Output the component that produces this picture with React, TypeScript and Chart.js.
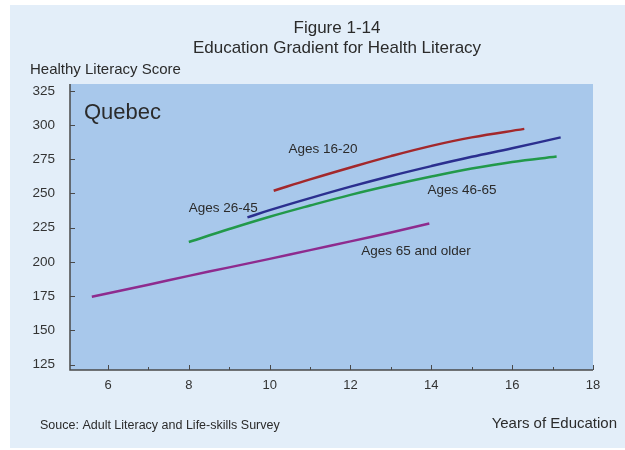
import React, { useEffect, useRef } from "react";
import Chart from "chart.js/auto";

// Health literacy score by years of education, Quebec, by age group
const years16to20 = [10.1, 11, 12, 13, 14, 15, 16.3];
const scores16to20 = [252, 260.3, 269, 277.3, 284.8, 291, 297.2];

const years26to45 = [9.45, 10, 11, 12, 13, 14, 15, 16, 17.2];
const scores26to45 = [232.5, 237.8, 246.6, 255, 262.8, 270, 276.8, 283, 291];

const years46to65 = [8, 9, 10, 11, 12, 13, 14, 15, 16, 17.1];
const scores46to65 = [214.5, 224, 233, 241.2, 249, 256, 262.4, 268.2, 273, 277];

const years65plus = [5.6, 7, 8, 9, 10, 11, 12, 13, 13.95];
const scores65plus = [174.5, 183.3, 189.8, 196, 202.2, 208.6, 215, 221.5, 228];

const xTickValues = [6, 8, 10, 12, 14, 16, 18];
const xMinorTickValues = [7, 9, 11, 13, 15, 17];
const yTickValues = [125, 150, 175, 200, 225, 250, 275, 300, 325];

const seriesNames = ["Ages 16-20", "Ages 26-45", "Ages 46-65", "Ages 65 and older"];

const FONT = "'Liberation Sans', Arial, sans-serif";
const TEXT = "#2b2b2b";
const PANEL = "#e3eef9";
const PLOT = "#a8c8eb";
const AXIS = "#4a4a4a";

// in-plot series labels, anchored in data coordinates (centre of text)
const seriesLabelAnchors = [
  { x: 11.32, y: 282.5 },
  { x: 8.85, y: 239.4 },
  { x: 14.76, y: 252.6 },
  { x: 13.62, y: 208 },
];

const toPoints = (xs: number[], ys: number[]) => xs.map((x, i) => ({ x, y: ys[i] }));

const framePlugin = {
  id: "frame",
  beforeDraw(chart: any) {
    const { ctx, chartArea: a } = chart;
    ctx.save();
    ctx.fillStyle = "#ffffff";
    ctx.fillRect(0, 0, chart.width, chart.height);
    ctx.fillStyle = PANEL;
    ctx.fillRect(10, 5, chart.width - 10, 443);
    ctx.fillStyle = PLOT;
    ctx.fillRect(a.left, a.top, a.right - a.left, a.bottom - a.top);
    ctx.restore();
  },
  afterDraw(chart: any) {
    const { ctx, chartArea: a } = chart;
    const xs = chart.scales.x;
    const ys = chart.scales.y;
    ctx.save();

    // axis lines
    ctx.strokeStyle = AXIS;
    ctx.lineWidth = 1.5;
    ctx.beginPath();
    ctx.moveTo(a.left, a.top);
    ctx.lineTo(a.left, a.bottom);
    ctx.lineTo(a.right, a.bottom);
    ctx.stroke();

    // inward tick marks
    ctx.lineWidth = 1;
    ctx.beginPath();
    for (const v of yTickValues) {
      const py = Math.round(ys.getPixelForValue(v)) + 0.5;
      ctx.moveTo(a.left, py);
      ctx.lineTo(a.left + 5, py);
    }
    for (const v of xTickValues) {
      const px = Math.round(xs.getPixelForValue(v)) + 0.5;
      ctx.moveTo(px, a.bottom);
      ctx.lineTo(px, a.bottom - 5);
    }
    for (const v of xMinorTickValues) {
      const px = Math.round(xs.getPixelForValue(v)) + 0.5;
      ctx.moveTo(px, a.bottom);
      ctx.lineTo(px, a.bottom - 3);
    }
    ctx.stroke();

    ctx.fillStyle = TEXT;
    ctx.textBaseline = "middle";

    // titles
    ctx.textAlign = "center";
    ctx.font = `17px ${FONT}`;
    ctx.fillText("Figure 1-14", 337, 28);
    ctx.fillText("Education Gradient for Health Literacy", 337, 48);

    ctx.textAlign = "left";
    ctx.font = `15px ${FONT}`;
    ctx.fillText("Healthy Literacy Score", 30, 70);

    // region name
    ctx.font = `22px ${FONT}`;
    ctx.fillText("Quebec", 84, 113);

    // series labels
    ctx.textAlign = "center";
    ctx.font = `13.5px ${FONT}`;
    seriesNames.forEach((name, i) => {
      const p = seriesLabelAnchors[i];
      ctx.fillText(name, xs.getPixelForValue(p.x), ys.getPixelForValue(p.y));
    });

    // axis title and source
    ctx.textAlign = "right";
    ctx.font = `15px ${FONT}`;
    ctx.fillText("Years of Education", 617, 424);
    ctx.textAlign = "left";
    ctx.font = `12.5px ${FONT}`;
    ctx.fillText("Souce: Adult Literacy and Life-skills Survey", 40, 426);

    ctx.restore();
  },
};

export default function App() {
  const canvasRef = useRef<HTMLCanvasElement | null>(null);

  useEffect(() => {
    const canvas = canvasRef.current;
    if (!canvas) return;
    const line = (label: string, xs: number[], ys: number[], color: string) => ({
      label,
      data: toPoints(xs, ys),
      borderColor: color,
      backgroundColor: color,
      borderWidth: 2.5,
      pointRadius: 0,
      tension: 0.4,
      fill: false,
    });

    const chart = new Chart(canvas, {
      type: "line",
      data: {
        datasets: [
          line(seriesNames[0], years16to20, scores16to20, "#a3282b"),
          line(seriesNames[1], years26to45, scores26to45, "#2b2f8f"),
          line(seriesNames[2], years46to65, scores46to65, "#22994a"),
          line(seriesNames[3], years65plus, scores65plus, "#8e2b8e"),
        ],
      },
      options: {
        animation: false,
        responsive: false,
        devicePixelRatio: 1,
        layout: { padding: { top: 84, right: 32, left: 0, bottom: 0 } },
        plugins: { legend: { display: false }, tooltip: { enabled: false } },
        scales: {
          x: {
            type: "linear",
            min: 5.06,
            max: 18,
            grid: { display: false, drawTicks: false },
            border: { display: false },
            afterBuildTicks: (s: any) => {
              s.ticks = xTickValues.map((value) => ({ value }));
            },
            afterFit: (s: any) => {
              s.height = 80;
            },
            ticks: {
              padding: 8,
              color: "#333333",
              font: { family: FONT, size: 13 },
              maxRotation: 0,
              callback: (v: any) => String(v),
            },
          },
          y: {
            type: "linear",
            min: 121,
            max: 330,
            grid: { display: false, drawTicks: false },
            border: { display: false },
            afterBuildTicks: (s: any) => {
              s.ticks = yTickValues.map((value) => ({ value }));
            },
            afterFit: (s: any) => {
              s.width = 70;
            },
            ticks: {
              padding: 15,
              color: "#333333",
              font: { family: FONT, size: 13.5 },
              callback: (v: any) => String(v),
            },
          },
        },
      },
      plugins: [framePlugin],
    });
    return () => chart.destroy();
  }, []);

  return (
    <div style={{ position: "absolute", left: 0, top: 0, width: 625, height: 450 }}>
      <canvas ref={canvasRef} width={625} height={450} style={{ display: "block" }} />
    </div>
  );
}
